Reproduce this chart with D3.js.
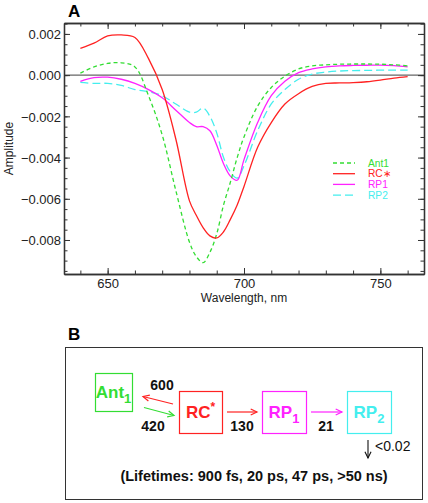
<!DOCTYPE html>
<html><head><meta charset="utf-8">
<script src="https://cdn.jsdelivr.net/npm/d3@7"></script>
<style>
html,body{margin:0;padding:0;background:#fff;}
svg{display:block;font-family:"Liberation Sans",Arial,Helvetica,sans-serif;}
</style></head>
<body>
<svg id="c" width="428" height="503"></svg>
<script>
// ---- data (panel A) ----
const wavelengths = [640,645,650,655,660,665,670,675,680,682.5,685,687.5,690,692.5,695,697.5,700,705,710,715,720,725,730,735,740,745,750,755,760];
const ant1 = [0.0001,0.0004,0.00057,0.0006,0.0004,-0.001,-0.0029,-0.0056,-0.0081,-0.0088,-0.0091,-0.0086,-0.0077,-0.0063,-0.0052,-0.0040,-0.0030,-0.0015,-0.0006,-0.00005,0.0003,0.00045,0.0005,0.00053,0.00054,0.00054,0.00053,0.0005,0.00045];
const rcStar = [0.0013,0.00155,0.0019,0.00195,0.00183,0.0008,-0.0007,-0.0031,-0.0061,-0.0068,-0.0074,-0.0078,-0.0079,-0.0076,-0.0070,-0.0063,-0.0054,-0.0035,-0.0023,-0.0014,-0.0009,-0.00055,-0.0004,-0.00038,-0.00036,-0.00032,-0.00024,-0.00014,-0.00007];
const rp1 = [-0.0003,-0.00012,-0.0001,-0.0002,-0.0004,-0.0007,-0.0011,-0.0017,-0.0023,-0.0025,-0.0025,-0.0027,-0.0034,-0.0043,-0.0049,-0.0051,-0.0041,-0.0023,-0.0010,-0.0003,0.00012,0.0003,0.0004,0.00045,0.00047,0.00048,0.00049,0.00046,0.0004];
const rp2 = [-0.00035,-0.0004,-0.0004,-0.0005,-0.0007,-0.0008,-0.0010,-0.0014,-0.0018,-0.0018,-0.0016,-0.0020,-0.0028,-0.0040,-0.0047,-0.0050,-0.0044,-0.0027,-0.0014,-0.0007,-0.0002,0.00005,0.00015,0.0002,0.00022,0.00023,0.00024,0.00024,0.00024];
const seriesNames = ["Ant1","RC\u2217","RP1","RP2"];
const xTicks = [650,700,750];
const yTicks = [0.002,0.000,-0.002,-0.004,-0.006,-0.008];

// ---- data (panel B) ----
const states = ["Ant","RC","RP","RP"];
const stateSubs = ["1","","1","2"];
const rates = ["600","420","130","21"];
const decayRate = "<0.02";
const lifetimesText = "(Lifetimes: 900 fs, 20 ps, 47 ps, >50 ns)";

const svg = d3.select("#c");
const colors = ["#33dd33","#ff2222","#ff22ff","#44eeee"];
const dashes = ["4,3",null,null,"8,4"];
const seriesData = [ant1, rcStar, rp1, rp2];

// ---- Panel A ----
const L=64, R=424, T=23, B=274;
const x = d3.scaleLinear().domain([634,766]).range([L,R]);
const y = d3.scaleLinear().domain([-0.00965,0.00253]).range([B,T]);

svg.append("text").attr("x",68).attr("y",17).attr("font-size",17).attr("font-weight","bold").text("A");

// zero line
svg.append("line").attr("x1",L).attr("x2",R).attr("y1",y(0)).attr("y2",y(0))
  .attr("stroke","#666").attr("stroke-width",1.3);

const fmt = d3.format(".3f");
const minorX = d3.range(640,761,10);
const minorY = d3.range(-0.0095,0.0025+1e-9,0.0005);

function styleAxis(g){
  g.select(".domain").attr("stroke","#333").attr("stroke-width",1.3);
  g.selectAll(".tick line").attr("stroke","#333").attr("stroke-width",1);
  g.selectAll("text").attr("font-size",13).attr("fill","#222").attr("font-family","Liberation Sans, Arial, sans-serif");
}
// bottom
let gb = svg.append("g").attr("transform",`translate(0,${B})`)
  .call(d3.axisBottom(x).tickValues(xTicks).tickSize(-6).tickPadding(5).tickSizeOuter(0));
styleAxis(gb);
let gbm = svg.append("g").attr("transform",`translate(0,${B})`)
  .call(d3.axisBottom(x).tickValues(minorX).tickSize(-3.5).tickFormat("").tickSizeOuter(0));
styleAxis(gbm);
// top
let gt = svg.append("g").attr("transform",`translate(0,${T})`)
  .call(d3.axisTop(x).tickValues(xTicks).tickSize(-6).tickFormat("").tickSizeOuter(0));
styleAxis(gt);
let gtm = svg.append("g").attr("transform",`translate(0,${T})`)
  .call(d3.axisTop(x).tickValues(minorX).tickSize(-3.5).tickFormat("").tickSizeOuter(0));
styleAxis(gtm);
// left
let gl = svg.append("g").attr("transform",`translate(${L},0)`)
  .call(d3.axisLeft(y).tickValues(yTicks).tickSize(-6).tickPadding(3).tickFormat(fmt).tickSizeOuter(0));
styleAxis(gl);
gl.selectAll("text").attr("dy","0.36em");
let glm = svg.append("g").attr("transform",`translate(${L},0)`)
  .call(d3.axisLeft(y).tickValues(minorY).tickSize(-3.5).tickFormat("").tickSizeOuter(0));
styleAxis(glm);
// right
let gr = svg.append("g").attr("transform",`translate(${R},0)`)
  .call(d3.axisRight(y).tickValues(yTicks).tickSize(-6).tickFormat("").tickSizeOuter(0));
styleAxis(gr);
let grm = svg.append("g").attr("transform",`translate(${R},0)`)
  .call(d3.axisRight(y).tickValues(minorY).tickSize(-3.5).tickFormat("").tickSizeOuter(0));
styleAxis(grm);

// axis titles
svg.append("text").attr("x",(L+R)/2).attr("y",302).attr("text-anchor","middle")
  .attr("font-size",12).attr("fill","#222").text("Wavelength, nm");
svg.append("text").attr("transform",`translate(13,${(T+B)/2}) rotate(-90)`).attr("text-anchor","middle")
  .attr("font-size",12).attr("fill","#222").text("Amplitude");

// curves
const line = d3.line().x((d,i)=>x(wavelengths[i])).y(d=>y(d)).curve(d3.curveCatmullRom.alpha(0.5));
const drawOrder = [3,2,0,1];
drawOrder.forEach(k=>{
  svg.append("path").datum(seriesData[k]).attr("d",line).attr("fill","none")
    .attr("stroke",colors[k]).attr("stroke-width",1.3)
    .attr("stroke-dasharray",dashes[k]);
});

// legend
const legY = [163,173.7,184.4,195.1];
seriesNames.forEach((n,k)=>{
  svg.append("line").attr("x1",333).attr("x2",355).attr("y1",legY[k]).attr("y2",legY[k])
    .attr("stroke",colors[k]).attr("stroke-width",1.3).attr("stroke-dasharray",dashes[k]);
  svg.append("text").attr("x",368).attr("y",legY[k]+3.6).attr("font-size",10.2).attr("fill",colors[k]).text(n);
});

// ---- Panel B ----
svg.append("text").attr("x",68).attr("y",340).attr("font-size",17).attr("font-weight","bold").text("B");
svg.append("rect").attr("x",65.5).attr("y",347.5).attr("width",357).attr("height",152)
  .attr("fill","none").attr("stroke","#333").attr("stroke-width",1);

const boxes = [
  {x:95,y:373,w:37,h:38,c:colors[0]},
  {x:179,y:391,w:43,h:42,c:colors[1]},
  {x:262,y:391,w:44,h:42,c:colors[2]},
  {x:347,y:391,w:44,h:42,c:colors[3]}
];
boxes.forEach((b,i)=>{
  svg.append("rect").attr("x",b.x+0.5).attr("y",b.y+0.5).attr("width",b.w).attr("height",b.h)
    .attr("fill","none").attr("stroke",b.c).attr("stroke-width",1.2);
  const t = svg.append("text").attr("x",b.x+b.w/2).attr("y",b.y+b.h/2+6).attr("text-anchor","middle")
    .attr("font-size",17).attr("font-weight","bold").attr("fill",b.c);
  t.append("tspan").text(states[i]);
  if(stateSubs[i]) t.append("tspan").attr("font-size",13).attr("dy",5).text(stateSubs[i]);
  else t.append("tspan").attr("font-size",12).attr("dy",-7).text("*");
});

// arrowheads
function arrow(x1,y1,x2,y2,c,w){
  svg.append("line").attr("x1",x1).attr("y1",y1).attr("x2",x2).attr("y2",y2)
    .attr("stroke",c).attr("stroke-width",w||1.2);
  const a = Math.atan2(y2-y1,x2-x1), h=7, s=0.45;
  const p1=[x2-h*Math.cos(a-s),y2-h*Math.sin(a-s)], p2=[x2-h*Math.cos(a+s),y2-h*Math.sin(a+s)];
  svg.append("path").attr("d",`M${p1}L${x2},${y2}L${p2}`).attr("fill","none").attr("stroke",c).attr("stroke-width",w||1.2);
}
arrow(173,404,143,396.5,colors[1]);
arrow(144,407.5,174,415.5,colors[0]);
arrow(227,412,257,412,colors[1]);
arrow(311,412,342,412,colors[2]);
arrow(368,440,368,458,"#111",1.1);

const numStyle = t=>t.attr("font-size",14).attr("font-weight","bold").attr("fill","#111").attr("text-anchor","middle");
numStyle(svg.append("text").attr("x",162).attr("y",390).text(rates[0]));
numStyle(svg.append("text").attr("x",153).attr("y",431).text(rates[1]));
numStyle(svg.append("text").attr("x",242).attr("y",431).text(rates[2]));
numStyle(svg.append("text").attr("x",326).attr("y",431).text(rates[3]));
svg.append("text").attr("x",375).attr("y",451).attr("font-size",14).attr("fill","#111").text(decayRate);
svg.append("text").attr("x",254).attr("y",481).attr("text-anchor","middle").attr("font-size",14.5)
  .attr("font-weight","bold").attr("fill","#111").text(lifetimesText);
</script>
</body></html>
